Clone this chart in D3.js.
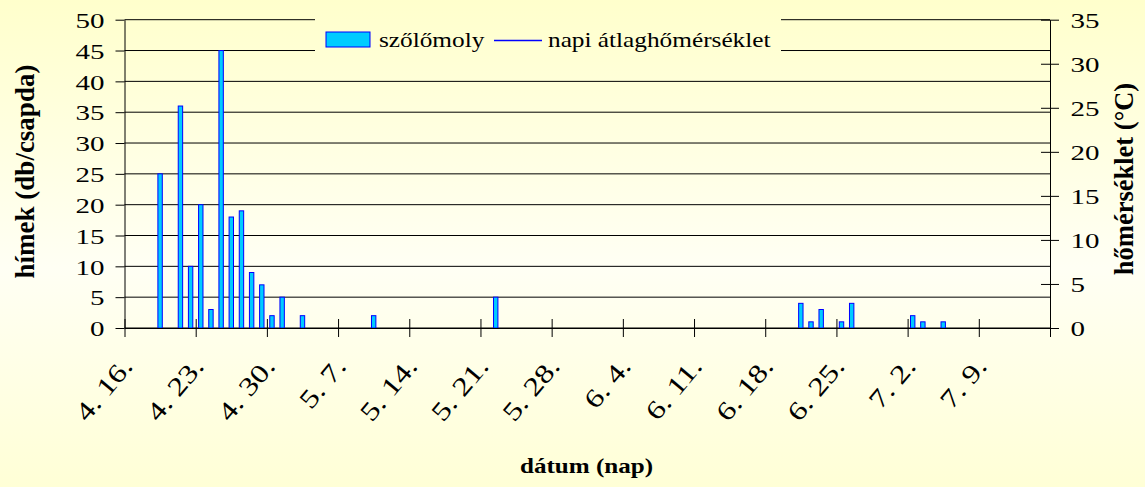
<!DOCTYPE html>
<html>
<head>
<meta charset="utf-8">
<script src="https://cdn.jsdelivr.net/npm/d3@7"></script>
<style>
  body { margin: 0; background: #ffffee; }
  text { font-family: "Liberation Serif", "Times New Roman", serif; fill: #000; }
</style>
</head>
<body>
<div id="chart"></div>
<script>
// data (year is arbitrary, only month/day shown)
var catchDates = ["4.19", "4.21", "4.22", "4.23", "4.24", "4.25", "4.26", "4.27", "4.28", "4.29",
  "4.30", "5.1", "5.3", "5.10", "5.22", "6.21", "6.22", "6.23", "6.25", "6.26", "7.2", "7.3", "7.5"];
var mothCounts = [25, 36, 10, 20, 3, 45, 18, 19, 9, 7, 2, 5, 2, 2, 5, 4, 1, 3, 1, 4, 2, 1, 1];
// no temperature line is drawn in the picture, only its legend entry
var tempDates = [];
var tempValues = [];
var tickDates = ["4.16", "4.23", "4.30", "5.7", "5.14", "5.21", "5.28", "6.4", "6.11", "6.18", "6.25", "7.2", "7.9", "7.16"];
var tickLabels = ["4. 16.", "4. 23.", "4. 30.", "5. 7.", "5. 14.", "5. 21.", "5. 28.", "6. 4.", "6. 11.", "6. 18.", "6. 25.", "7. 2.", "7. 9.", ""];
var leftTicks = [0, 5, 10, 15, 20, 25, 30, 35, 40, 45, 50];
var rightTicks = [0, 5, 10, 15, 20, 25, 30, 35];

var svgWidth = 1145;
var svgHeight = 487;
var plot = {left: 124.5, right: 1050, top: 19.7, bottom: 328};
var serif = "'Liberation Serif', 'Times New Roman', serif";

function parseDay(s, hour) {
  var p = s.split(".");
  return new Date(Date.UTC(2004, +p[0] - 1, +p[1], hour || 0));
}

var svg = d3.select("#chart")
  .append("svg")
  .attr("width", svgWidth)
  .attr("height", svgHeight);

// background gradient
var grad = svg.append("defs").append("linearGradient")
  .attr("id", "bg")
  .attr("gradientUnits", "userSpaceOnUse")
  .attr("x1", 0).attr("y1", 0).attr("x2", 0).attr("y2", svgHeight);
grad.append("stop").attr("offset", "0").attr("stop-color", "#ffffcc");
grad.append("stop").attr("offset", "0.55").attr("stop-color", "#fffff4");
grad.append("stop").attr("offset", "1").attr("stop-color", "#ffffd6");

svg.append("rect")
  .attr("width", svgWidth)
  .attr("height", svgHeight)
  .attr("fill", "url(#bg)");

// scales
var x = d3.scaleUtc()
  .domain([parseDay("4.16"), parseDay("7.16")])
  .range([plot.left, plot.right]);

var yLeft = d3.scaleLinear()
  .domain([0, 50])
  .range([plot.bottom, plot.top]);

var yRight = d3.scaleLinear()
  .domain([0, 35])
  .range([plot.bottom, plot.top]);

// gridlines
svg.append("g")
  .selectAll("line")
  .data(leftTicks)
  .enter()
  .append("line")
  .attr("x1", plot.left)
  .attr("x2", plot.right)
  .attr("y1", d => yLeft(d))
  .attr("y2", d => yLeft(d))
  .attr("stroke", "#000")
  .attr("stroke-width", 1);

// bars, centred in the day slot
var barW = 4.4;
svg.append("g")
  .selectAll("rect")
  .data(catchDates)
  .enter()
  .append("rect")
  .attr("x", d => x(parseDay(d, 12)) - barW / 2)
  .attr("y", (d, i) => yLeft(mothCounts[i]))
  .attr("width", barW)
  .attr("height", (d, i) => yLeft(0) - yLeft(mothCounts[i]))
  .attr("fill", "#00ccff")
  .attr("stroke", "#0000ff")
  .attr("stroke-width", 1);

// temperature line (empty)
var line = d3.line()
  .x((d, i) => x(parseDay(tempDates[i], 12)))
  .y(d => yRight(d));
svg.append("path")
  .datum(tempValues)
  .attr("fill", "none")
  .attr("stroke", "#0000ff")
  .attr("d", line);

// left axis
var leftAxis = svg.append("g")
  .attr("transform", `translate(${plot.left},0)`)
  .attr("font-family", serif)
  .call(d3.axisLeft(yLeft).tickValues(leftTicks).tickSize(9).tickSizeOuter(0));
leftAxis.selectAll("text")
  .attr("x", null)
  .attr("dy", "0.37em")
  .attr("transform", "translate(-20,0) scale(1.38,1)")
  .style("font-size", "21px");

// right axis
var rightAxis = svg.append("g")
  .attr("transform", `translate(${plot.right},0)`)
  .attr("font-family", serif)
  .call(d3.axisRight(yRight).tickValues(rightTicks).tickSize(9).tickSizeOuter(0));
rightAxis.selectAll(".tick line").attr("x1", -9);
rightAxis.selectAll("text")
  .attr("x", null)
  .attr("dy", "0.35em")
  .attr("transform", "translate(20.5,0) scale(1.38,1)")
  .style("font-size", "21px");

// bottom axis, ticks cross the line
var bottomAxis = svg.append("g")
  .attr("transform", `translate(0,${plot.bottom})`)
  .attr("font-family", serif)
  .call(d3.axisBottom(x)
    .tickValues(tickDates.map(d => parseDay(d)))
    .tickFormat((d, i) => tickLabels[i])
    .tickSize(9)
    .tickSizeOuter(0));
bottomAxis.selectAll(".tick line").attr("y1", -9);
bottomAxis.selectAll("text")
  .attr("y", null)
  .attr("dy", null)
  .attr("text-anchor", "end")
  .attr("transform", "translate(9,39) rotate(-50) scale(1.25,1)")
  .style("font-size", "26px");

svg.selectAll(".domain").attr("stroke", "#000");
svg.selectAll(".tick line").attr("stroke", "#000");

// axis titles
svg.append("text")
  .attr("transform", "translate(33.5,171.5) rotate(-90)")
  .attr("text-anchor", "middle")
  .style("font-size", "27px")
  .style("font-weight", "bold")
  .text("hímek (db/csapda)");

svg.append("text")
  .attr("transform", "translate(1133,179) rotate(-90)")
  .attr("text-anchor", "middle")
  .style("font-size", "26.5px")
  .style("font-weight", "bold")
  .text("hőmérséklet (°C)");

svg.append("text")
  .attr("transform", "translate(586.5,473) scale(1.14,1)")
  .attr("text-anchor", "middle")
  .style("font-size", "22px")
  .style("font-weight", "bold")
  .text("dátum (nap)");

// legend
var legend = svg.append("g");
legend.append("rect")
  .attr("x", 315).attr("y", 14)
  .attr("width", 466).attr("height", 44)
  .attr("fill", "url(#bg)");
legend.append("rect")
  .attr("x", 326).attr("y", 32)
  .attr("width", 44).attr("height", 15)
  .attr("fill", "#00ccff")
  .attr("stroke", "#0000ff");
legend.append("text")
  .attr("transform", "translate(379,47) scale(1.15,1)")
  .style("font-size", "22px")
  .text("szőlőmoly");
legend.append("line")
  .attr("x1", 494).attr("x2", 542)
  .attr("y1", 40.5).attr("y2", 40.5)
  .attr("stroke", "#0000ff")
  .attr("stroke-width", 1.5);
legend.append("text")
  .attr("transform", "translate(548,47) scale(1.15,1)")
  .style("font-size", "22px")
  .text("napi átlaghőmérséklet");
</script>
</body>
</html>
